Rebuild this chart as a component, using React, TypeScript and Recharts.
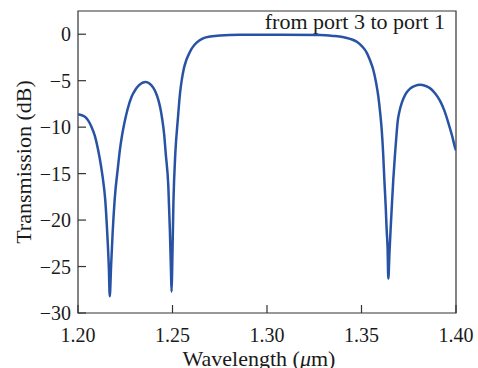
import React from 'react';
import { LineChart, Line, XAxis, YAxis, ReferenceArea } from 'recharts';

const wavelength = [
  1.2, 1.2035, 1.207, 1.209, 1.2106, 1.2122, 1.2132, 1.2144, 1.2155, 1.2163,
  1.2168, 1.2175, 1.2183, 1.2194, 1.2212, 1.2222, 1.2233, 1.2246, 1.2262, 1.2284,
  1.2306, 1.2322, 1.2340, 1.2358, 1.2378, 1.2398, 1.2413, 1.2425, 1.2436, 1.2446,
  1.2456, 1.2464, 1.2478, 1.2486, 1.2492, 1.2495, 1.2498, 1.2505, 1.2515, 1.2528,
  1.2540, 1.2550, 1.2560, 1.2572, 1.2585, 1.2600, 1.2618, 1.2640, 1.2665, 1.2700,
  1.2751, 1.2857, 1.3069, 1.3280, 1.3350, 1.3400, 1.3440, 1.3475, 1.3503, 1.3528,
  1.3545, 1.3562, 1.3577, 1.3589, 1.3599, 1.3607, 1.3615, 1.3621, 1.3628, 1.3633,
  1.3638, 1.3642, 1.3648, 1.3654, 1.3661, 1.3668, 1.3677, 1.3686, 1.3692, 1.3701,
  1.3713, 1.3733, 1.3757, 1.3783, 1.3810, 1.3836, 1.3862, 1.3889, 1.3915, 1.3938,
  1.3959, 1.3979, 1.3995, 1.4,
];

const transmission = [
  -8.6, -8.85, -9.9, -11.0, -12.4, -14.2, -15.6, -17.8, -21.5, -25.0,
  -28.2, -25.0, -21.5, -17.8, -14.2, -12.4, -10.9, -9.5, -8.1, -6.7,
  -5.9, -5.5, -5.24, -5.15, -5.3, -5.75, -6.35, -7.06, -8.0, -9.2,
  -10.8, -12.8, -16.4, -21.0, -25.5, -27.7, -25.5, -18.0, -12.8, -9.2,
  -6.3, -4.8, -3.7, -2.85, -2.2, -1.6, -1.1, -0.7, -0.42, -0.25,
  -0.13, -0.06, -0.05, -0.08, -0.18, -0.3, -0.5, -0.8, -1.3, -2.0,
  -2.8, -3.8, -5.2, -6.7, -8.5, -10.3, -13.0, -15.7, -18.5, -21.0,
  -23.0, -26.3, -23.5, -21.0, -18.3, -15.7, -13.0, -10.6, -9.3, -8.3,
  -7.4, -6.45, -5.85, -5.55, -5.45, -5.55, -5.8, -6.35, -7.15, -8.2,
  -9.5, -10.9, -12.2, -12.5,
];

const xTicks = [1.2, 1.25, 1.3, 1.35, 1.4];
const yTicks = [-30, -25, -20, -15, -10, -5, 0];
const xDomain = [1.2, 1.4];
const yDomain = [-30, 2.5];
const xLabelMain = 'Wavelength (';
const xLabelItalic = 'μ';
const xLabelEnd = 'm)';
const yLabel = 'Transmission (dB)';
const annotation = 'from port 3 to port 1';

const data = wavelength.map((w, i) => ({ w, t: transmission[i] }));

const FONT = '"Liberation Serif", "Times New Roman", serif';
const TEXT = '#1a1a1a';
const FRAME = '#333333';
const LINE = '#2853a5';

const fmtY = (v: number) => (v < 0 ? '\u2212' + Math.abs(v) : String(v));

const YTick = (props: any) => {
  const { x, y, payload } = props;
  return (
    <g>
      <line x1={x} x2={x + 8} y1={y} y2={y} stroke={FRAME} strokeWidth={1.2} />
      <text x={x - 7} y={y} dy={7} textAnchor="end" fontFamily={FONT} fontSize={20} fill={TEXT}>
        {fmtY(payload.value)}
      </text>
    </g>
  );
};

const XTick = (props: any) => {
  const { x, y, payload } = props;
  return (
    <g>
      <line x1={x} x2={x} y1={y} y2={y - 8} stroke={FRAME} strokeWidth={1.2} />
      <text x={x} y={y + 28.5} textAnchor="middle" fontFamily={FONT} fontSize={20} fill={TEXT}>
        {Number(payload.value).toFixed(2)}
      </text>
    </g>
  );
};

const XLabel = (props: any) => {
  const vb = props.viewBox || { x: 78, y: 313, width: 378, height: 55 };
  const cx = vb.x + vb.width / 2 - 8;
  return (
    <text x={cx} y={vb.y + 53} textAnchor="middle" fontFamily={FONT} fontSize={22} fill={TEXT}>
      {xLabelMain}
      <tspan fontStyle="italic">{xLabelItalic}</tspan>
      {xLabelEnd}
    </text>
  );
};

const YLabel = (props: any) => {
  const vb = props.viewBox || { x: 0, y: 11, width: 78, height: 302 };
  const cx = 31;
  const cy = vb.y + vb.height / 2;
  return (
    <text
      x={cx}
      y={cy}
      transform={`rotate(-90 ${cx} ${cy})`}
      textAnchor="middle"
      fontFamily={FONT}
      fontSize={22}
      fill={TEXT}
    >
      {yLabel}
    </text>
  );
};

const Annotation = (props: any) => {
  const vb = props.viewBox || { x: 78, y: 11, width: 378, height: 302 };
  return (
    <text
      x={vb.x + vb.width - 11}
      y={vb.y + 17.5}
      textAnchor="end"
      fontFamily={FONT}
      fontSize={22}
      fill={TEXT}
    >
      {annotation}
    </text>
  );
};

export default function App() {
  return (
    <div style={{ position: 'absolute', left: 0, top: 0, background: '#fff' }}>
      <LineChart
        width={478}
        height={368}
        data={data}
        margin={{ top: 11, right: 22, bottom: 0, left: 0 }}
      >
        <XAxis
          dataKey="w"
          type="number"
          domain={xDomain}
          ticks={xTicks}
          interval={0}
          allowDataOverflow
          tickSize={0}
          tickMargin={0}
          axisLine={false}
          tickLine={false}
          height={55}
          tick={(p: any) => <XTick {...p} />}
          label={(p: any) => <XLabel {...p} />}
        />
        <YAxis
          type="number"
          domain={yDomain}
          ticks={yTicks}
          interval={0}
          allowDataOverflow
          tickSize={0}
          tickMargin={0}
          axisLine={false}
          tickLine={false}
          width={78}
          tick={(p: any) => <YTick {...p} />}
          label={(p: any) => <YLabel {...p} />}
        />
        <ReferenceArea
          x1={xDomain[0]}
          x2={xDomain[1]}
          y1={yDomain[0]}
          y2={yDomain[1]}
          fill="none"
          fillOpacity={0}
          stroke={FRAME}
          strokeWidth={1.2}
          label={(p: any) => <Annotation {...p} />}
        />
        <Line
          dataKey="t"
          type="monotone"
          stroke={LINE}
          strokeWidth={2.5}
          dot={false}
          activeDot={false}
          isAnimationActive={false}
        />
      </LineChart>
    </div>
  );
}
